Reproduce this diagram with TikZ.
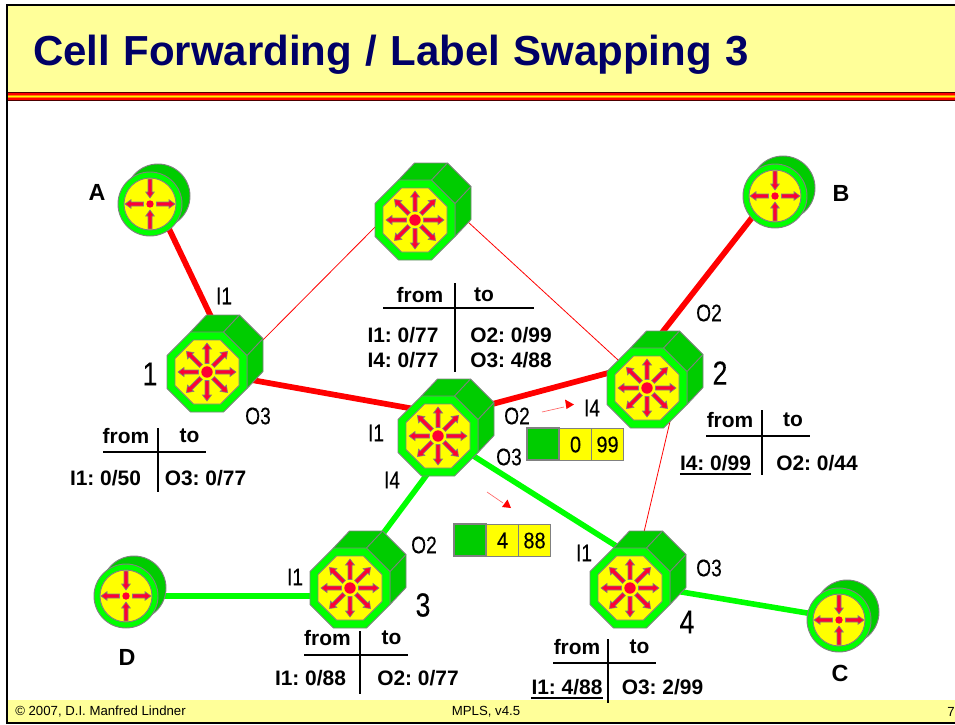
\documentclass[tikz,border=0pt]{standalone}
\usepackage{fontspec}
\setmainfont{Liberation Sans}
\newfontfamily\narrowfont[FakeStretch=0.8,FakeBold=0.1]{Liberation Sans}
\newfontfamily\cellfont[FakeStretch=0.88,FakeBold=0.1]{Liberation Sans}
\newfontfamily\titlefont[WordSpace=1.14]{Liberation Sans}
\usetikzlibrary{calc}
\definecolor{headyellow}{HTML}{FFFF99}
\definecolor{titleblue}{HTML}{000066}
\definecolor{faceyellow}{HTML}{FFFF00}
\definecolor{brightgreen}{HTML}{00FF00}
\definecolor{darkgreen}{HTML}{00CC00}
\definecolor{arrowred}{HTML}{FF0033}
\definecolor{edgegray}{HTML}{808080}
\tikzset{
  thicklink/.style={red,line width=4.3pt},
  greenlink/.style={brightgreen,line width=4.2pt},
  thinlink/.style={red,line width=0.6pt},
  dirline/.style={red!60,line width=0.5pt},
  rulepart/.style={black,line width=0.8pt},
  underpart/.style={black,line width=1.6pt},
  bolditem/.style={inner sep=0pt,font=\frenchspacing\fontsize{15.7}{18}\selectfont\bfseries},
  namelabel/.style={inner sep=0pt,font=\fontsize{17.5}{20}\selectfont\bfseries},
  portlabel/.style={inner sep=0pt,font=\narrowfont\fontsize{18}{20}\selectfont},
  numlabel/.style={inner sep=0pt,font=\narrowfont\fontsize{25}{28}\selectfont},
  footlabel/.style={inner sep=0pt,font=\fontsize{9.9}{12}\selectfont},
  cellpart/.style={draw=edgegray,line width=0.8pt},
  cellbox/.style={cellpart,fill=faceyellow,minimum size=24pt,inner sep=0pt,anchor=north west,font=\cellfont\fontsize{17}{20}\selectfont},
  bodypart/.style={draw=edgegray,line width=0.7pt},
  arrowpart/.style={fill=arrowred,draw=edgegray,line width=0.5pt},
  bigrouter/.pic={
    % Body behind the front face
    \draw[bodypart,fill=darkgreen] (-16.5,-40) -- (-0.5,-57) -- (32.5,-57) -- (56,-33.5) -- (56,-0.5) -- (40,16.5) -- (40,-16.5) -- cycle;
    \draw[bodypart] (16.5,-40) -- (32.5,-57);
    \draw[bodypart] (40,-16.5) -- (56,-33.5);
    % Front face
    \draw[bodypart,fill=brightgreen] (-16.5,-40) -- (16.5,-40) -- (40,-16.5) -- (40,16.5) -- (16.5,40) -- (-16.5,40) -- (-40,16.5) -- (-40,-16.5) -- cycle;
    \draw[bodypart,fill=faceyellow] (-13.5,-32) -- (13.5,-32) -- (32,-13.5) -- (32,13.5) -- (13.5,32) -- (-13.5,32) -- (-32,13.5) -- (-32,-13.5) -- cycle;
    % Arrows going out of the centre
    \foreach \ang in {0,45,...,315}
      \draw[arrowpart,rotate=\ang] (8.5,-2) -- (23,-2) -- (23,-4.5) -- (29,0) -- (23,4.5) -- (23,2) -- (8.5,2) -- cycle;
    \fill[arrowred] (0,0) circle (5.7);
  },
  smallrouter/.pic={
    % Body behind the front face
    \draw[bodypart,fill=darkgreen] (8,-8) circle (32);
    % Front face
    \draw[bodypart,fill=brightgreen] (0,0) circle (32);
    \draw[bodypart,fill=faceyellow] (0,0) circle (26);
    % Two arrows go out, two come in
    \foreach \ang in {0,180}
      \draw[arrowpart,rotate=\ang] (6.5,-2) -- (19,-2) -- (19,-4.3) -- (25,0) -- (19,4.3) -- (19,2) -- (6.5,2) -- cycle;
    \foreach \ang in {90,270}
      \draw[arrowpart,rotate=\ang] (25,-2) -- (12,-2) -- (12,-4.3) -- (6,0) -- (12,4.3) -- (12,2) -- (25,2) -- cycle;
    \fill[arrowred] (0,0) circle (3.7);
  },
}

\begin{document}
\begin{tikzpicture}[x=0.75pt,y=-0.75pt]
\useasboundingbox (0,0) rectangle (955,724);
% Header and footer of the slide
\fill[headyellow] (7,5) rectangle (960,92);
\fill[headyellow] (7,700) rectangle (960,723);
\fill[black!70!red] (6,92) rectangle (960,101);
\fill[red] (6,93) rectangle (960,99.5);
\fill[orange] (6,94.5) rectangle (960,98);
\fill[yellow] (6,95.5) rectangle (960,97);
\draw[black,line width=1.5pt] (7,5) rectangle (965,723);
\node[anchor=base west,inner sep=0pt,font=\titlefont\fontsize{31.5}{36}\selectfont\bfseries,text=titleblue] (title) at (33,65) {Cell Forwarding / Label Swapping 3};
\node[footlabel,anchor=west] (footleft) at (15,712) {© 2007, D.I. Manfred Lindner};
\node[footlabel] (footmid) at (486,712) {MPLS, v4.5};
\node[footlabel] (footpage) at (951,712) {7};

% Routers
\coordinate (ra) at (150,204);
\coordinate (rb) at (775,196);
\coordinate (rc) at (839,620);
\coordinate (rd) at (126,596);
\coordinate (rtop) at (415,220);
\coordinate (r1) at (207,372);
\coordinate (r2) at (647,388);
\coordinate (r3) at (350,588);
\coordinate (r4) at (630,588);
\coordinate (rmid) at (438,436);
% Ends of the links, hidden behind the routers
\coordinate (a1s) at (160,210);
\coordinate (a1e) at (215,325);
\coordinate (1ms) at (235,377);
\coordinate (1me) at (420,410);
\coordinate (m2s) at (470,410);
\coordinate (m2e) at (625,368.5);
\coordinate (2bs) at (650,348);
\coordinate (2be) at (765,201);
\coordinate (1ts) at (250,353);
\coordinate (1te) at (390,212);
\coordinate (t2s) at (455,210);
\coordinate (t2e) at (630,371);
\coordinate (24s) at (672,413);
\coordinate (24e) at (640,549);
\coordinate (m3s) at (440,457);
\coordinate (m3e) at (370,551);
\coordinate (m4s) at (460,447.5);
\coordinate (m4e) at (640,561);
\coordinate (4cs) at (640,585);
\coordinate (4ce) at (840,618.5);
% Thin links
\draw[thinlink] (1ts) -- (1te);
\draw[thinlink] (t2s) -- (t2e);
\draw[thinlink] (24s) -- (24e);
% Red links
\draw[thicklink] (a1s) -- (a1e);
\draw[thicklink] (1ms) -- (1me);
\draw[thicklink] (m2s) -- (m2e);
\draw[thicklink] (2bs) -- (2be);
% Green links
\draw[greenlink] (rd) -- (rd -| r3);
\draw[greenlink] (m3s) -- (m3e);
\draw[greenlink] (m4s) -- (m4e);
\draw[greenlink] (4cs) -- (4ce);
% Draw the routers on top
\pic at (ra) {smallrouter};
\pic at (rb) {smallrouter};
\pic at (rc) {smallrouter};
\pic at (rd) {smallrouter};
\pic at (rtop) {bigrouter};
\pic at (r1) {bigrouter};
\pic at (r2) {bigrouter};
\pic at (r3) {bigrouter};
\pic at (r4) {bigrouter};
\pic at (rmid) {bigrouter};

% Names of the routers
\node[namelabel] (namea) at (97,192) {A};
\node[namelabel] (nameb) at (841,193) {B};
\node[namelabel] (namec) at (840,673) {C};
\node[namelabel] (named) at (127,657) {D};
\node[numlabel] (num1) at (150,374) {1};
\node[numlabel] (num2) at (720,373) {2};
\node[numlabel] (num3) at (423,605) {3};
\node[numlabel] (num4) at (687,622) {4};
% Ports
\node[portlabel] (p1a) at (224,296) {I1};
\node[portlabel] (p1b) at (258,416) {O3};
\node[portlabel] (p2a) at (592,408) {I4};
\node[portlabel] (p2b) at (709,313) {O2};
\node[portlabel] (p3a) at (295,577) {I1};
\node[portlabel] (p3b) at (424,545) {O2};
\node[portlabel] (p4a) at (584,553) {I1};
\node[portlabel] (p4b) at (709,568) {O3};
\node[portlabel] (pma) at (376,433) {I1};
\node[portlabel] (pmb) at (517,416) {O2};
\node[portlabel] (pmc) at (509,457) {O3};
\node[portlabel] (pmd) at (392,480) {I4};

% Cells on the links
\coordinate (cell1) at (527,428);
\coordinate (cell2) at (454,524);
\draw[cellpart,fill=darkgreen] (cell1) rectangle ++(32,32);
\node[cellbox] (cell1a) at ($(cell1)+(32,0)$) {0};
\node[cellbox] (cell1b) at ($(cell1)+(64,0)$) {99};
\draw[cellpart,fill=darkgreen] (cell2) rectangle ++(32,32);
\node[cellbox] (cell2a) at ($(cell2)+(32,0)$) {4};
\node[cellbox] (cell2b) at ($(cell2)+(64,0)$) {88};
% Small arrows showing the direction
\coordinate (dir1s) at (542,412);
\coordinate (dir1e) at (564,407);
\coordinate (dir1t) at (574,404.5);
\coordinate (dir2s) at (487,492);
\coordinate (dir2e) at (503,503);
\coordinate (dir2t) at (511,508);
\draw[dirline] (dir1s) -- (dir1e);
\draw[dirline] (dir2s) -- (dir2e);
\fill[red] (dir1t) -- ++(-9,-5) -- ++(1.5,9.5) -- cycle;
\fill[red] (dir2t) -- ++(-9,-1) -- ++(5.5,-7.5) -- cycle;

% Table of router 1
\draw[rulepart] (103,452) -- (206,452);
\draw[rulepart] (158,428) -- (158,492);
\node[bolditem] (t1from) at (126,436) {from};
\node[bolditem] (t1to) at (189.5,436) {to};
\node[bolditem] (t1in) at (105.5,478) {I1: 0/50};
\node[bolditem] (t1out) at (205.5,478) {O3: 0/77};
% Table of the top
\draw[rulepart] (383,308) -- (534,308);
\draw[rulepart] (455,283) -- (455,372);
\node[bolditem] (t5from) at (420,295) {from};
\node[bolditem] (t5to) at (484,295) {to};
\node[bolditem] (t5ina) at (403,335) {I1: 0/77};
\node[bolditem] (t5outa) at (511,335) {O2: 0/99};
\node[bolditem] (t5inb) at (403,360) {I4: 0/77};
\node[bolditem] (t5outb) at (511,360) {O3: 4/88};
% Table of router 2
\draw[rulepart] (706,436) -- (810,436);
\draw[rulepart] (762,410) -- (762,475);
\node[bolditem] (t2from) at (730,420) {from};
\node[bolditem] (t2to) at (793,420) {to};
\node[bolditem] (t2in) at (715.5,463) {I4: 0/99};
\node[bolditem] (t2out) at (817,463) {O2: 0/44};
\draw[underpart] ($(t2in.south west)+(0,3)$) -- ($(t2in.south east)+(0,3)$);
% Table of router 3
\draw[rulepart] (304,655) -- (408,655);
\draw[rulepart] (360,631) -- (360,694);
\node[bolditem] (t3from) at (327.5,638) {from};
\node[bolditem] (t3to) at (391.5,638) {to};
\node[bolditem] (t3in) at (310.5,678) {I1: 0/88};
\node[bolditem] (t3out) at (418,678) {O2: 0/77};
% Table of router 4
\draw[rulepart] (553,663) -- (656,663);
\draw[rulepart] (608,639) -- (608,703);
\node[bolditem] (t4from) at (577,647) {from};
\node[bolditem] (t4to) at (639.5,647) {to};
\node[bolditem] (t4in) at (567,687) {I1: 4/88};
\node[bolditem] (t4out) at (662.5,687) {O3: 2/99};
\draw[underpart] ($(t4in.south west)+(0,3)$) -- ($(t4in.south east)+(0,3)$);
\end{tikzpicture}
\end{document}
